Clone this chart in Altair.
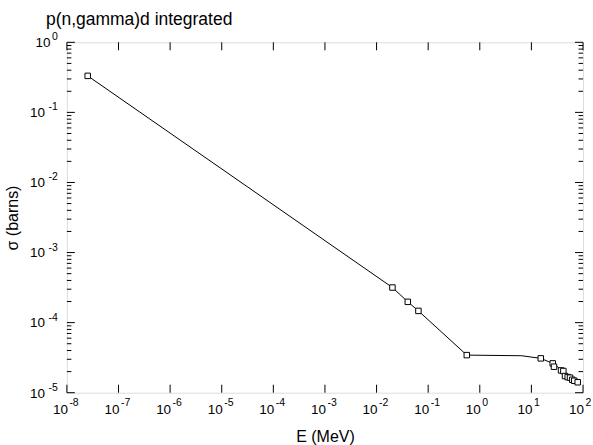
import altair as alt
import pandas as pd

# ---- data ----
marker_E = [2.53e-8, 0.0203, 0.0403, 0.0647, 0.56, 15.2, 25.9, 27.4, 37.5, 41.6,
            44.8, 50.5, 56.0, 62.1, 67.8, 78.9]
marker_sigma = [0.332, 3.17e-4, 1.98e-4, 1.47e-4, 3.44e-5, 3.09e-5, 2.62e-5, 2.35e-5,
                2.08e-5, 2.04e-5, 1.73e-5, 1.67e-5, 1.64e-5, 1.53e-5, 1.48e-5, 1.41e-5]
line_E = [2.53e-8, 0.0203, 0.0403, 0.0647, 0.56, 6.5, 15.2, 25.9, 41.6, 56.0, 78.9]
line_sigma = [0.332, 3.17e-4, 1.98e-4, 1.47e-4, 3.44e-5, 3.37e-5, 3.09e-5, 2.62e-5,
              2.04e-5, 1.64e-5, 1.41e-5]

x_exponents = [-8, -7, -6, -5, -4, -3, -2, -1, 0, 1, 2]
y_exponents = [-5, -4, -3, -2, -1, 0]
minor_mult = [2, 3, 4, 5, 6, 7, 8, 9]

W, H = 517, 351
FONT = "Liberation Sans"

xscale = alt.Scale(type="log", domain=[1e-8, 1e2], nice=False)
yscale = alt.Scale(type="log", domain=[1e-5, 1e0], nice=False)

line_df = pd.DataFrame({"E": line_E, "sigma": line_sigma})
mk_df = pd.DataFrame({"E": marker_E, "sigma": marker_sigma})
xt_df = pd.DataFrame({"e": x_exponents, "v": [10.0 ** e for e in x_exponents]})
yt_df = pd.DataFrame({"e": y_exponents, "v": [10.0 ** e for e in y_exponents]})
ym_df = pd.DataFrame({"v": [m * 10.0 ** e for e in y_exponents[:-1] for m in minor_mult]})

X = alt.X("E:Q", scale=xscale,
          axis=alt.Axis(title="E (MeV)", labels=False, ticks=False, domain=False, grid=False,
                        titleFont=FONT, titleFontSize=16, titleFontWeight="normal",
                        titleColor="black", titlePadding=36))
Y = alt.Y("sigma:Q", scale=yscale,
          axis=alt.Axis(title="σ (barns)", labels=False, ticks=False, domain=False, grid=False,
                        titleFont=FONT, titleFontSize=16, titleFontWeight="normal",
                        titleColor="black", titlePadding=46))

line = alt.Chart(line_df).mark_line(color="black", strokeWidth=1).encode(x=X, y=Y)
pts = alt.Chart(mk_df).mark_point(shape="square", size=30, filled=False, fill="white",
                                  fillOpacity=1, stroke="black", strokeWidth=1,
                                  opacity=1).encode(x="E:Q", y="sigma:Q")

xv = alt.X("v:Q", scale=xscale)
yv = alt.Y("v:Q", scale=yscale)

xt_bot = alt.Chart(xt_df).mark_rule(color="black", strokeWidth=1).encode(
    x=xv, y=alt.value(H), y2=alt.value(H - 8))
xt_top = alt.Chart(xt_df).mark_rule(color="black", strokeWidth=1).encode(
    x=xv, y=alt.value(0), y2=alt.value(8))
yt_left = alt.Chart(yt_df).mark_rule(color="black", strokeWidth=1).encode(
    y=yv, x=alt.value(0), x2=alt.value(8))
yt_right = alt.Chart(yt_df).mark_rule(color="black", strokeWidth=1).encode(
    y=yv, x=alt.value(W), x2=alt.value(W - 8))
ym_left = alt.Chart(ym_df).mark_rule(color="black", strokeWidth=1).encode(
    y=yv, x=alt.value(0), x2=alt.value(4.5))
ym_right = alt.Chart(ym_df).mark_rule(color="black", strokeWidth=1).encode(
    y=yv, x=alt.value(W), x2=alt.value(W - 4.5))

# x tick labels: "10" + superscript exponent
xl_base = alt.Chart(xt_df).mark_text(font=FONT, fontSize=13.5, align="right",
                                     baseline="alphabetic", dx=1, color="black").encode(
    x=xv, y=alt.value(H + 21), text=alt.value("10"))
xl_exp = alt.Chart(xt_df).mark_text(font=FONT, fontSize=10.5, align="left",
                                    baseline="alphabetic", dx=2.5, color="black").encode(
    x=xv, y=alt.value(H + 13), text=alt.Text("e:N"))

# y tick labels
yl_exp = alt.Chart(yt_df).mark_text(font=FONT, fontSize=10.5, align="right",
                                    baseline="alphabetic", dy=-2, color="black").encode(
    y=yv, x=alt.value(-9), text=alt.Text("e:N"))
yl_base = alt.Chart(yt_df).transform_calculate(
    xp="datum.e < 0 ? -22 : -16.5"
).mark_text(font=FONT, fontSize=13.5, align="right", baseline="alphabetic", dy=4.8,
            color="black").encode(
    y=yv, x=alt.X("xp:Q", scale=None), text=alt.value("10"))

chart = alt.layer(
    line, pts, xt_bot, xt_top, yt_left, yt_right, ym_left, ym_right,
    xl_base, xl_exp, yl_exp, yl_base
).properties(
    width=W, height=H,
    title=alt.TitleParams("p(n,gamma)d integrated", anchor="start", frame="group", dx=-21,
                          offset=4, font=FONT, fontSize=17.5, fontWeight="normal",
                          color="black"),
    autosize=alt.AutoSizeParams(type="none"),
    padding={"left": 67, "top": 42, "right": 10, "bottom": 52},
).configure_view(stroke="black", strokeWidth=2).configure(background="white")

chart.save("out.html", embed_options={"renderer": "svg", "actions": False})
